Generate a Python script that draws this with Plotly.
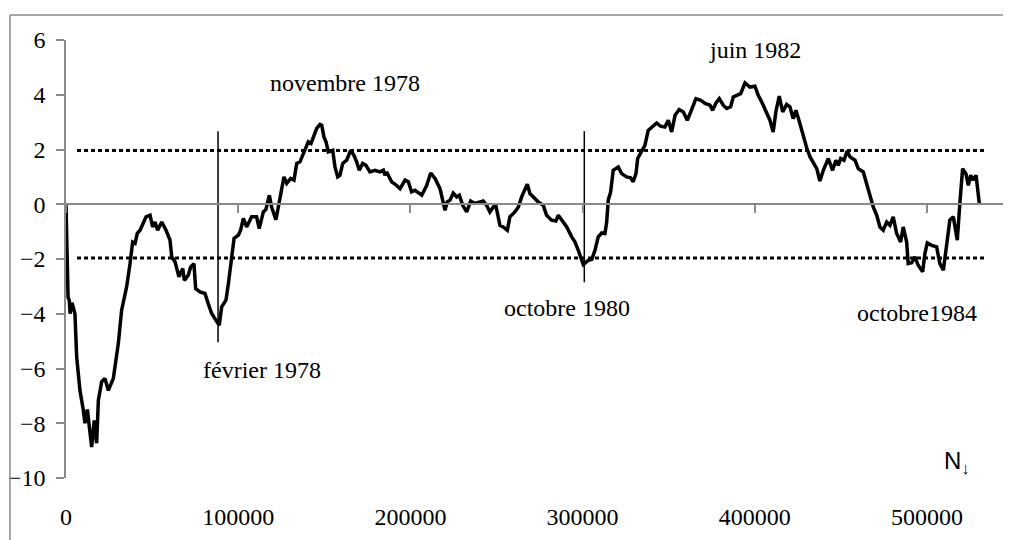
import plotly.graph_objects as go

# ---- data ----
n_vals = [0, 600, 1200, 1900, 2400, 3500, 5200, 6200, 8100, 10000, 11000, 12400, 14900, 16400, 17800,
          18800, 20700, 22600, 24600, 27500, 30400, 32300, 35200, 37200, 38700, 40100, 41400, 43000,
          44900, 46500, 48800, 50300, 51700, 53200, 55600, 58100, 60400, 61400, 63300, 65600, 67800,
          68700, 71000, 72400, 74300, 75300, 77800, 80700, 82600, 84600, 87100, 89000, 90400, 92900,
          94300, 96200, 97600, 100100, 101400, 103000, 104900, 107800, 110700, 112200, 114600, 116100,
          118100, 119400, 121900, 123300, 125300, 126600, 128200, 130500, 132400, 134000, 135900,
          137800, 139400, 140700, 142300, 143600, 145600, 147500, 148500, 149800, 151000, 152300,
          154900, 156200, 157800, 159100, 160700, 163000, 165300, 167200, 168800, 170300, 172300,
          174200, 176500, 179400, 182300, 184300, 185200, 186200, 189100, 192000, 194000, 196900,
          198800, 200700, 202700, 206600, 209500, 211800, 214300, 217200, 220100, 221400, 223000,
          224900, 226900, 228400, 230400, 232700, 235000, 237500, 240000, 242300, 244300, 246200,
          248100, 249700, 252000, 253900, 256300, 257800, 260700, 262700, 264600, 266500, 267900,
          269400, 271400, 274300, 277200, 279100, 282000, 284500, 285900, 287800, 290800, 293700,
          295600, 297500, 298900, 300400, 303300, 305300, 307200, 309100, 311100, 313000, 314000,
          314900, 316300, 317800, 320700, 322700, 325600, 327900, 329400, 331000, 332000, 333700,
          336200, 338100, 340100, 343000, 345300, 347800, 349800, 351700, 353700, 356100, 358500,
          360800, 362800, 365800, 368600, 371100, 374000, 375500, 377500, 379400, 381700, 383700,
          386000, 387500, 389500, 391800, 394300, 397200, 400100, 402000, 404000, 406900, 408800,
          410700, 412300, 414200, 416200, 418500, 420400, 422300, 423900, 426200, 428200, 430100,
          432100, 434000, 436000, 437800, 439800, 442700, 445200, 447100, 448500, 449900, 451800,
          453700, 455300, 458200, 460100, 463000, 465000, 466900, 468800, 470800, 472700, 474600,
          476600, 478500, 480400, 482400, 484700, 486200, 488200, 489100, 491100, 493000, 494900,
          497500, 498800, 500200, 502700, 505600, 507500, 509500, 511400, 513300, 515300, 517600,
          519100, 520700, 522600, 524000, 525400, 526900, 528500, 529200, 530400]
stat_vals = [0, -2.5, -3.4, -3.5, -4.0, -3.6, -4.0, -5.58, -6.8, -7.5, -8.0, -7.5, -8.87, -7.9, -8.73,
             -7.16, -6.49, -6.36, -6.8, -6.36, -5.08, -3.87, -3.02, -2.16, -1.38, -1.43, -1.06, -0.95,
             -0.65, -0.46, -0.40, -0.83, -0.65, -0.95, -0.65, -0.95, -1.31, -1.92, -2.1, -2.65, -2.35,
             -2.78, -2.59, -2.29, -2.17, -3.08, -3.2, -3.26, -3.63, -3.99, -4.24, -4.42, -3.75, -3.5,
             -2.9, -1.8, -1.25, -1.13, -0.95, -0.52, -0.83, -0.46, -0.46, -0.89, -0.28, -0.19,
             0.33, -0.1, -0.56, -0.1, 0.57, 1.0, 0.76, 0.94, 0.88, 1.49, 1.55,
             1.85, 2.03, 2.28, 2.22, 2.46, 2.77, 2.92, 2.89, 2.46, 2.28, 1.91,
             1.97, 1.36, 1.0, 1.06, 1.49, 1.61, 1.97, 1.79, 1.55, 1.24, 1.49,
             1.42, 1.18, 1.24, 1.18, 1.24, 1.06, 1.18, 0.82, 0.69, 0.57, 0.88,
             0.82, 0.45, 0.51, 0.33, 0.69, 1.14, 0.94, 0.57, -0.22, 0.09, 0.15,
             0.41, 0.27, 0.33, -0.04, -0.28, 0.12, 0.03, 0.09, 0.12, -0.04, -0.28,
             -0.1, -0.07, -0.77, -0.83, -0.95, -0.46, -0.28, -0.1, 0.27, 0.57, 0.73,
             0.39, 0.27, 0.08, -0.04, -0.4, -0.58, -0.61, -0.4, -0.56, -0.83, -1.19,
             -1.38, -1.68, -1.92, -2.2, -2.05, -2.02, -1.68, -1.19, -1.05, -1.07, -0.65,
             0.15, 0.45, 1.24, 1.36, 1.12, 1.0, 0.97, 0.82, 1.12, 1.67, 1.87,
             2.15, 2.7, 2.82, 2.97, 2.85, 2.82, 3.07, 2.64, 3.25, 3.46, 3.37,
             3.07, 3.37, 3.86, 3.80, 3.68, 3.62, 3.43, 3.70, 3.86, 3.62, 3.50,
             3.56, 3.92, 3.98, 4.04, 4.43, 4.28, 4.31, 3.98, 3.74, 3.37, 3.07,
             2.64, 3.4, 3.95, 3.37, 3.65, 3.56, 3.13, 3.43, 2.95, 2.46, 2.07,
             1.73, 1.49, 1.30, 0.85, 1.24, 1.67, 1.24, 1.61, 1.42, 1.67, 1.61,
             1.95, 1.73, 1.61, 1.30, 1.18, 0.76, 0.27, -0.1, -0.4, -0.83, -0.95,
             -0.65, -0.77, -0.46, -1.07, -1.38, -0.83, -1.38, -2.17, -2.14, -1.92, -2.23,
             -2.47, -1.8, -1.41, -1.5, -1.56, -2.17, -2.41, -1.5, -0.58, -0.46, -1.31,
             0.03, 1.30, 1.12, 0.69, 1.06, 0.88, 1.06, 0.76, 0.03]

# critical band (dotted lines)
band_n = [6400, 533700]
band_level = 1.96

# event markers (vertical lines)
event_n = [88300, 301000]
event_top = [2.67, 2.67]
event_bottom = [-5.04, -2.85]

# labels
label_text = ["novembre 1978", "février 1978", "octobre 1980", "juin 1982", "octobre1984"]
label_n = [162000, 114100, 291200, 400100, 494200]
label_y = [4.42, -6.06, -3.8, 5.63, -3.98]

x_ticks = [0, 100000, 200000, 300000, 400000, 500000]
y_ticks = [-10, -8, -6, -4, -2, 0, 2, 4, 6]

SERIF = "Liberation Serif, Times New Roman, serif"
GRAY = "#898989"

fig = go.Figure()

for lvl in (band_level, -band_level):
    fig.add_trace(go.Scatter(x=band_n, y=[lvl, lvl], mode="lines",
                             line=dict(color="black", width=3, dash="4px,3px"),
                             hoverinfo="skip", showlegend=False))

for xn, yt, yb in zip(event_n, event_top, event_bottom):
    fig.add_trace(go.Scatter(x=[xn, xn], y=[yt, yb], mode="lines", xaxis="x2",
                             line=dict(color="black", width=1.5),
                             hoverinfo="skip", showlegend=False))

fig.add_trace(go.Scatter(x=n_vals, y=stat_vals, mode="lines",
                         line=dict(color="black", width=3.5),
                         showlegend=False))

for t, xn, yv in zip(label_text, label_n, label_y):
    fig.add_annotation(x=xn, y=yv, text=t, showarrow=False,
                       font=dict(family=SERIF, size=24, color="black"))

fig.add_annotation(x=508700, y=-9.42, text="N<sub>↓</sub>", showarrow=False, xanchor="left",
                   font=dict(family="Liberation Sans, Arial, sans-serif", size=24, color="black"))

# outer chart border (top & left visible)
fig.add_shape(type="line", xref="paper", yref="paper", x0=-0.0593, x1=1.02, y0=1.057, y1=1.057,
              line=dict(color=GRAY, width=1.5))
fig.add_shape(type="line", xref="paper", yref="paper", x0=-0.0593, x1=-0.0593, y0=1.057, y1=-0.25,
              line=dict(color=GRAY, width=1.5))

xmax = 548800
fig.update_layout(
    width=1011, height=540,
    margin=dict(l=58, r=8, t=32, b=70),
    paper_bgcolor="white", plot_bgcolor="white",
    showlegend=False,
    xaxis=dict(range=[0, xmax], tickvals=x_ticks, ticktext=[str(v) for v in x_ticks],
               showline=False, ticks="", showgrid=False, zeroline=False, automargin=False,
               ticklabelstandoff=22,
               tickfont=dict(family=SERIF, size=24, color="black")),
    xaxis2=dict(range=[0, xmax], matches="x", overlaying="x", anchor="free", position=0.625,
                side="bottom", tickvals=x_ticks, showticklabels=False, automargin=False,
                showline=True, linecolor=GRAY, linewidth=1.5,
                ticks="outside", ticklen=8, tickcolor=GRAY, tickwidth=1.5,
                showgrid=False, zeroline=False),
    yaxis=dict(range=[-10, 6], tickvals=y_ticks, showline=True, linecolor=GRAY, linewidth=1.5,
               ticks="outside", ticklen=8, tickcolor=GRAY, tickwidth=1.5, automargin=False,
               showgrid=False, zeroline=False, ticklabelstandoff=6,
               tickfont=dict(family=SERIF, size=24, color="black")),
)

fig.write_html("out.html")
